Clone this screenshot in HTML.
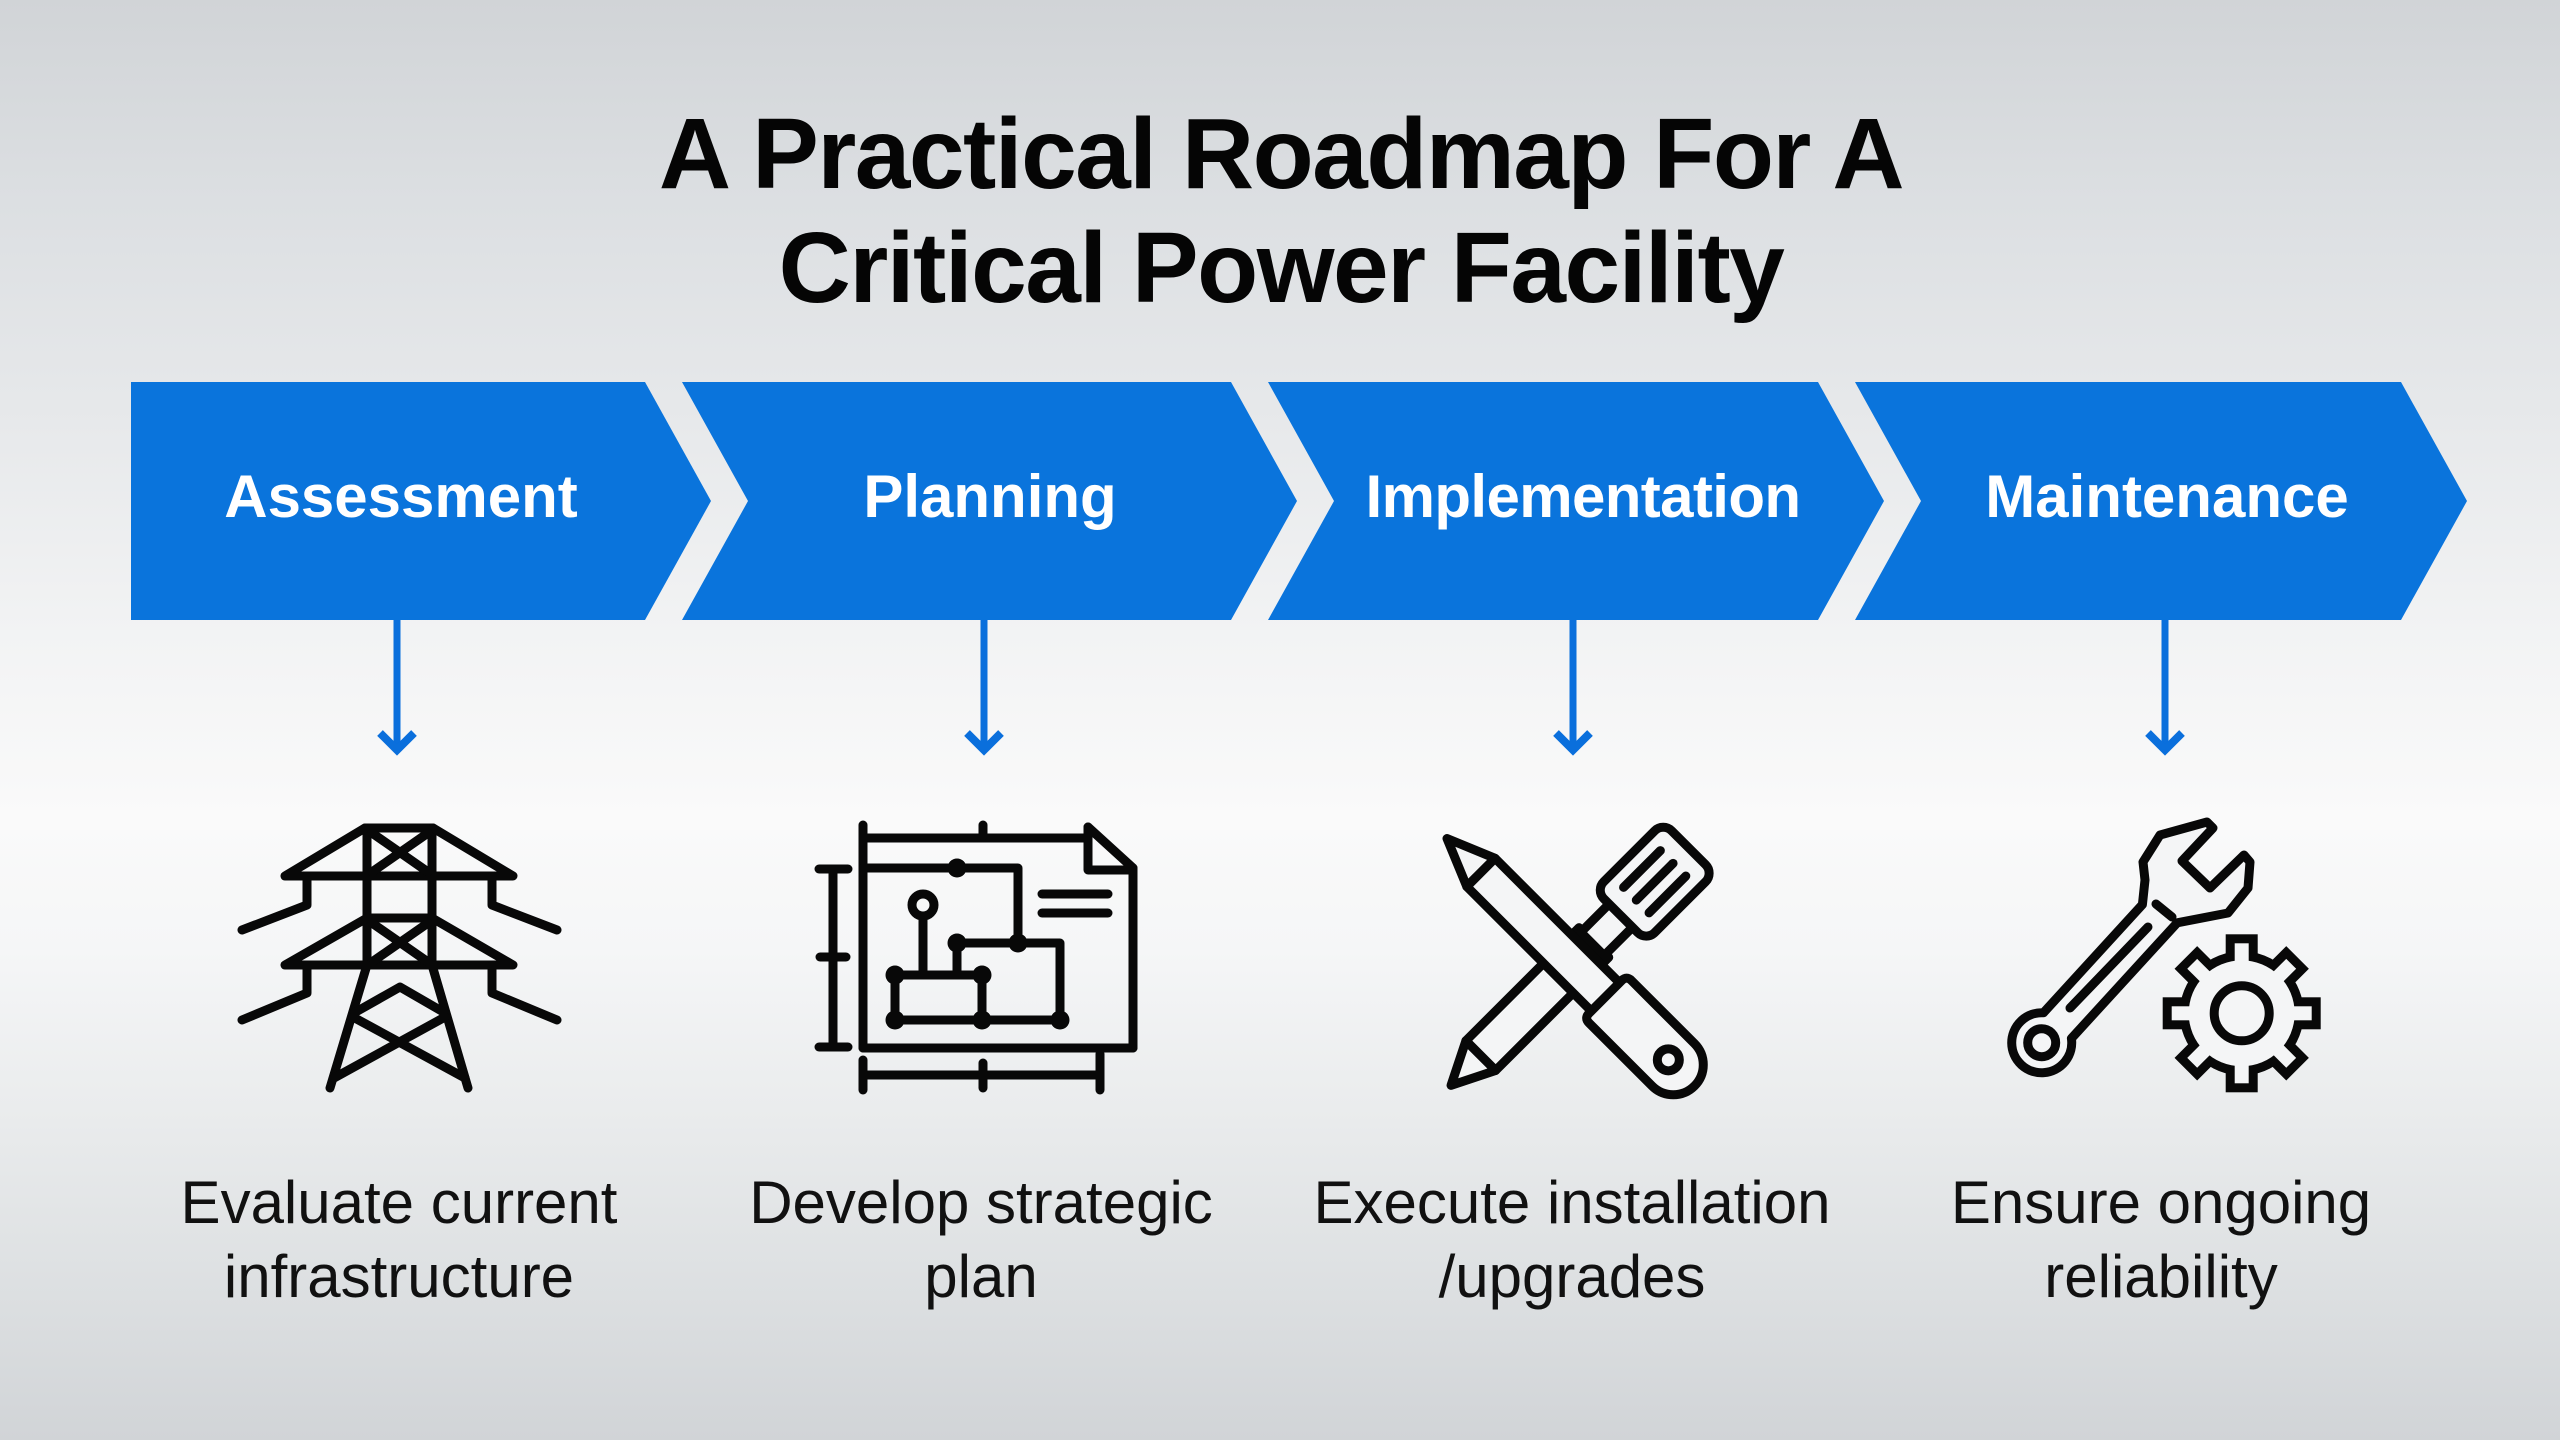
<!DOCTYPE html>
<html>
<head>
<meta charset="utf-8">
<style>
  html, body { margin:0; padding:0; width:2560px; height:1440px; overflow:hidden; }
  body {
    background: linear-gradient(to bottom, #d1d4d7 0%, #dcdfe2 14%, #e6e8ea 28%, #f2f3f4 44%, #fafafa 57%, #f5f6f7 66%, #e9ebec 78%, #dcdfe1 90%, #d1d4d7 100%);
  }
  svg { position:absolute; left:0; top:0; }
</style>
</head>
<body>
<svg width="2560" height="1440" viewBox="0 0 2560 1440" xmlns="http://www.w3.org/2000/svg">
  <!-- Title -->
  <g font-family="'Liberation Sans', Arial, sans-serif" font-weight="bold" font-size="100" fill="#050505" text-anchor="middle" letter-spacing="-1.5">
    <text x="1281" y="188">A Practical Roadmap For A</text>
    <text x="1281" y="302">Critical Power Facility</text>
  </g>

  <!-- Chevrons -->
  <g fill="#0a74dc">
    <polygon points="131,382 645,382 711,501 645,620 131,620"/>
    <polygon points="682,382 1231,382 1297,501 1231,620 682,620 748,501"/>
    <polygon points="1268,382 1818,382 1884,501 1818,620 1268,620 1334,501"/>
    <polygon points="1855,382 2401,382 2467,501 2401,620 1855,620 1921,501"/>
  </g>
  <g font-family="'Liberation Sans', Arial, sans-serif" font-weight="bold" font-size="60" fill="#ffffff" text-anchor="middle">
    <text x="401" y="517">Assessment</text>
    <text x="990" y="517">Planning</text>
    <text x="1583" y="517" letter-spacing="-0.6">Implementation</text>
    <text x="2167" y="517">Maintenance</text>
  </g>

  <!-- Arrows -->
  <g stroke="#0a6fdc" fill="none">
    <line x1="397" y1="620" x2="397" y2="748" stroke-width="7"/>
    <polyline points="380,733 397,750 414,733" stroke-width="8" stroke-linejoin="miter"/>
    <line x1="984" y1="620" x2="984" y2="748" stroke-width="7"/>
    <polyline points="967,733 984,750 1001,733" stroke-width="8" stroke-linejoin="miter"/>
    <line x1="1573" y1="620" x2="1573" y2="748" stroke-width="7"/>
    <polyline points="1556,733 1573,750 1590,733" stroke-width="8" stroke-linejoin="miter"/>
    <line x1="2165" y1="620" x2="2165" y2="748" stroke-width="7"/>
    <polyline points="2148,733 2165,750 2182,733" stroke-width="8" stroke-linejoin="miter"/>
  </g>

  <!-- Icon 1: Transmission tower -->
  <g stroke="#080808" stroke-width="9" fill="none" stroke-linecap="round" stroke-linejoin="round">
    <line x1="365" y1="828" x2="433" y2="828"/>
    <line x1="367" y1="828" x2="367" y2="965"/>
    <line x1="432" y1="828" x2="432" y2="965"/>
    <polyline points="365,828 285,876 513,876 433,828"/>
    <line x1="372" y1="833" x2="428" y2="872"/>
    <line x1="428" y1="833" x2="372" y2="872"/>
    <polyline points="307,876 307,905 242,930"/>
    <polyline points="492,876 492,905 557,930"/>
    <line x1="367" y1="918" x2="432" y2="918"/>
    <polyline points="367,918 285,965 513,965 432,918"/>
    <line x1="372" y1="923" x2="428" y2="962"/>
    <line x1="428" y1="923" x2="372" y2="962"/>
    <polyline points="307,965 307,993 242,1020"/>
    <polyline points="492,965 492,993 557,1020"/>
    <line x1="367" y1="965" x2="330" y2="1088"/>
    <line x1="432" y1="965" x2="468" y2="1088"/>
    <polyline points="354,1013 400,987 445,1013"/>
    <line x1="353" y1="1017" x2="465" y2="1078"/>
    <line x1="445" y1="1017" x2="334" y2="1078"/>
  </g>

  <!-- Icon 2: Blueprint -->
  <g stroke="#080808" stroke-width="9" fill="none" stroke-linecap="round" stroke-linejoin="round">
    <line x1="863" y1="838" x2="1088" y2="838"/>
    <line x1="863" y1="825" x2="863" y2="1048"/>
    <line x1="983" y1="825" x2="983" y2="836"/>
    <polyline points="1088,827 1088,870 1133,870"/>
    <line x1="1088" y1="827" x2="1133" y2="868"/>
    <line x1="1133" y1="868" x2="1133" y2="1048"/>
    <line x1="863" y1="1048" x2="1133" y2="1048"/>
    <polyline points="863,868 1018,868 1018,943"/>
    <polyline points="957,943 1060,943 1060,1020"/>
    <line x1="895" y1="1020" x2="1060" y2="1020"/>
    <rect x="895" y="975" width="87" height="45"/>
    <line x1="957" y1="943" x2="957" y2="975"/>
    <circle cx="923" cy="905" r="11"/>
    <line x1="923" y1="916" x2="923" y2="975"/>
    <line x1="1042" y1="894" x2="1108" y2="894"/>
    <line x1="1042" y1="913" x2="1108" y2="913"/>
    <line x1="833" y1="869" x2="833" y2="1047"/>
    <line x1="819" y1="869" x2="848" y2="869"/>
    <line x1="820" y1="957" x2="846" y2="957"/>
    <line x1="819" y1="1047" x2="848" y2="1047"/>
    <line x1="863" y1="1075" x2="1100" y2="1075"/>
    <line x1="863" y1="1060" x2="863" y2="1090"/>
    <line x1="983" y1="1063" x2="983" y2="1088"/>
    <line x1="1100" y1="1054" x2="1100" y2="1090"/>
  </g>
  <g fill="#080808">
    <circle cx="957" cy="868" r="9.5"/>
    <circle cx="1018" cy="943" r="9.5"/>
    <circle cx="957" cy="943" r="9.5"/>
    <circle cx="1060" cy="1020" r="9.5"/>
    <circle cx="895" cy="975" r="9.5"/>
    <circle cx="982" cy="975" r="9.5"/>
    <circle cx="895" cy="1020" r="9.5"/>
    <circle cx="982" cy="1020" r="9.5"/>
  </g>

  <!-- Icon 3: Crossed tools -->
  <g stroke="#080808" stroke-width="9" fill="#f4f5f6" stroke-linecap="round" stroke-linejoin="round">
    <g transform="translate(1654.7,881.7) rotate(135)">
      <rect x="86" y="-21" width="160" height="42"/>
      <polygon points="246,-21 288,0 246,21"/>
      <rect x="46" y="-16.5" width="42" height="33"/>
      <rect x="-48" y="-36" width="96" height="72" rx="12"/>
      <line x1="-26" y1="-18" x2="26" y2="-18"/>
      <line x1="-26" y1="0" x2="26" y2="0"/>
      <line x1="-26" y1="18" x2="26" y2="18"/>
    </g>
    <g transform="translate(1447,838.5) rotate(45)">
      <polygon points="0,0 48,-20 48,20"/>
      <rect x="48" y="-20" width="177" height="40"/>
      <path d="M231,-30 H320 A30,30 0 0 1 320,30 H231 Q224,30 224,23 V-23 Q224,-30 231,-30 Z"/>
      <circle cx="313" cy="0" r="11"/>
    </g>
  </g>

  <!-- Icon 4: Wrench and gear -->
  <g stroke="#080808" stroke-width="9" fill="#f4f5f6" stroke-linecap="round" stroke-linejoin="round">
    <path d="M2043.4,1012.8 L2142.4,904.6 L2145,880 L2143,862 L2160,835 L2207,822 L2213,828 L2182,861 L2210,888 L2244,855 L2250,862 L2248,888 L2228,913 L2177.2,922.8 L2071.4,1038.4 A30,30 0 1 1 2043.4,1012.8 Z"/>
    <circle cx="2041.7" cy="1042.7" r="14"/>
    <line x1="2070" y1="1008" x2="2148" y2="927"/>
    <line x1="2156" y1="904" x2="2172" y2="917"/>
  </g>
  <g transform="translate(2241.7,1013.3)">
    <g stroke="#080808" stroke-width="18" fill="none" stroke-linejoin="miter">
      <circle r="53"/>
      <rect x="-7" y="-70" width="14" height="25"/>
      <rect x="-7" y="-70" width="14" height="25" transform="rotate(45)"/>
      <rect x="-7" y="-70" width="14" height="25" transform="rotate(90)"/>
      <rect x="-7" y="-70" width="14" height="25" transform="rotate(135)"/>
      <rect x="-7" y="-70" width="14" height="25" transform="rotate(180)"/>
      <rect x="-7" y="-70" width="14" height="25" transform="rotate(225)"/>
      <rect x="-7" y="-70" width="14" height="25" transform="rotate(270)"/>
      <rect x="-7" y="-70" width="14" height="25" transform="rotate(315)"/>
    </g>
    <g fill="#f4f5f6">
      <circle r="53"/>
      <rect x="-7" y="-70" width="14" height="25"/>
      <rect x="-7" y="-70" width="14" height="25" transform="rotate(45)"/>
      <rect x="-7" y="-70" width="14" height="25" transform="rotate(90)"/>
      <rect x="-7" y="-70" width="14" height="25" transform="rotate(135)"/>
      <rect x="-7" y="-70" width="14" height="25" transform="rotate(180)"/>
      <rect x="-7" y="-70" width="14" height="25" transform="rotate(225)"/>
      <rect x="-7" y="-70" width="14" height="25" transform="rotate(270)"/>
      <rect x="-7" y="-70" width="14" height="25" transform="rotate(315)"/>
    </g>
    <circle r="27.5" stroke="#080808" stroke-width="9" fill="none"/>
  </g>

  <!-- Bottom descriptions -->
  <g font-family="'Liberation Sans', Arial, sans-serif" font-size="60" fill="#111111" text-anchor="middle">
    <text x="399" y="1223">Evaluate current</text>
    <text x="399" y="1297">infrastructure</text>
    <text x="981" y="1223">Develop strategic</text>
    <text x="981" y="1297">plan</text>
    <text x="1572" y="1223">Execute installation</text>
    <text x="1572" y="1297">/upgrades</text>
    <text x="2161" y="1223">Ensure ongoing</text>
    <text x="2161" y="1297">reliability</text>
  </g>
</svg>
</body>
</html>
